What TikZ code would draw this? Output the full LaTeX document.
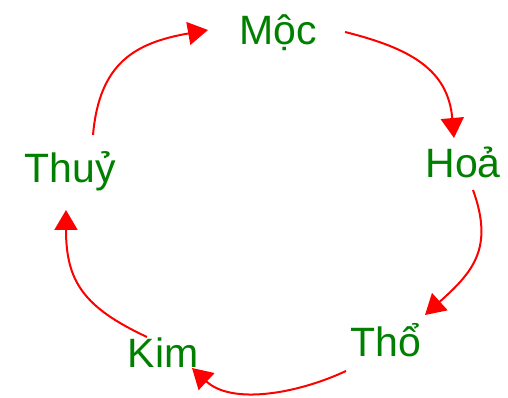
\documentclass[tikz,border=0pt]{standalone}
\usepackage{fontspec}
\setsansfont{Liberation Sans}
\usepackage{tikz}
\usetikzlibrary{arrows.meta}

\definecolor{hanhgreen}{RGB}{0,128,0}
\definecolor{hanhred}{RGB}{255,0,0}

\begin{document}
\begin{tikzpicture}[
  x=1pt, y=1pt,
  hanh/.style={
    font=\sffamily\fontsize{41}{41}\selectfont, text=hanhgreen,
    inner sep=0pt, outer sep=0pt, anchor=base
  },
  sinh/.style={
    -{Triangle[length=20pt, width=23pt]},
    draw=hanhred, line width=2pt, looseness=1.2
  }
]
\useasboundingbox (0,0) rectangle (508,398);

% ----- Ngũ hành -----
\node[hanh] (moc)  at (278, 353) {Mộc};
\node[hanh] (hoa)  at (463, 220) {Hoả};
\node[hanh] (tho)  at (386, 41)  {Thổ};
\node[hanh] (kim)  at (163, 30)  {Kim};
\node[hanh] (thuy) at (70, 215)  {Thuỷ};

% ----- Vòng tương sinh -----
\draw[sinh, looseness=1.15] ([shift={(67,13)}]moc.base) to[out=-14, in=95]
  ([shift={(-9,40)}]hoa.base);
\draw[sinh] ([shift={(10,-12)}]hoa.base) to[out=-70, in=42]
  ([shift={(39,42)}]tho.base);
\draw[sinh, looseness=0.9] ([shift={(-40,-14)}]tho.base) to[out=205, in=-43]
  ([shift={(29,0)}]kim.base);
\draw[sinh] ([shift={(-16,31)}]kim.base) to[out=155, in=-90]
  ([shift={(-4,-27)}]thuy.base);
\draw[sinh] ([shift={(23,48)}]thuy.base) to[out=85, in=190]
  ([shift={(-70,15)}]moc.base);

\end{tikzpicture}
\end{document}
